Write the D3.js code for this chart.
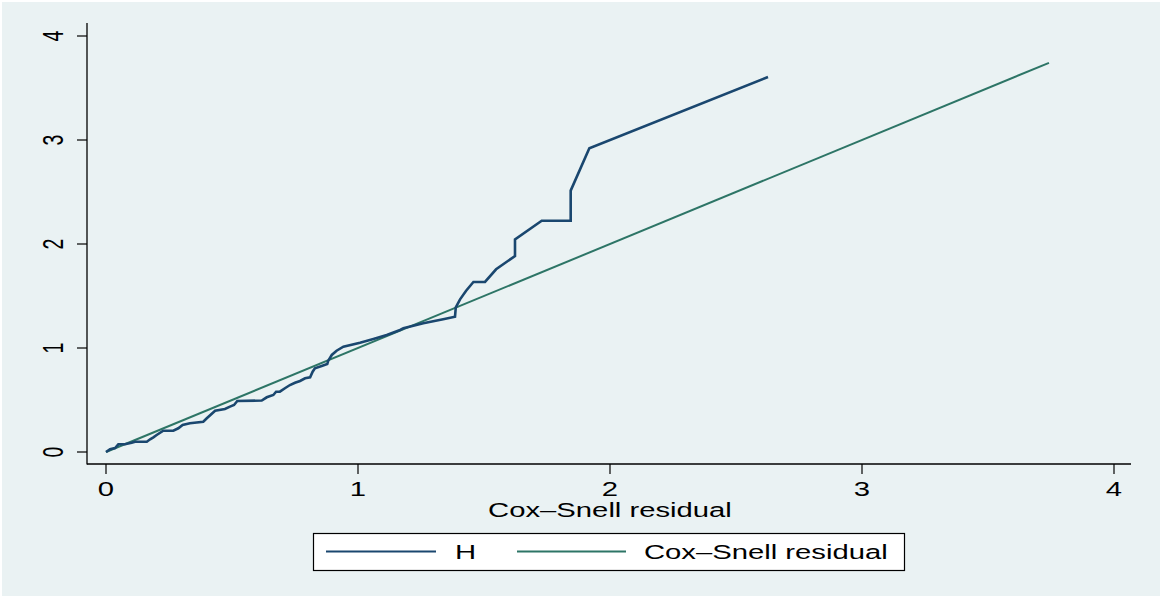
<!DOCTYPE html>
<html>
<head>
<meta charset="utf-8">
<script src="https://cdn.jsdelivr.net/npm/d3@7"></script>
<style>
  html, body { margin: 0; padding: 0; background: #fff; }
  svg { display: block; }
  text { font-family: "Liberation Sans", Arial, sans-serif; fill: #000; }
</style>
</head>
<body>
<script>
// Nelson-Aalen cumulative hazard (H) against Cox-Snell residual
var hX = [0, 0.016, 0.036, 0.049, 0.075, 0.102, 0.115, 0.162, 0.175, 0.188, 0.201,
  0.227, 0.267, 0.287, 0.304, 0.333, 0.386, 0.400, 0.433, 0.472, 0.492, 0.508,
  0.521, 0.618, 0.638, 0.664, 0.675, 0.690, 0.710, 0.730, 0.750, 0.770, 0.790,
  0.810, 0.820, 0.829, 0.856, 0.878, 0.882, 0.896, 0.915, 0.942, 1.008, 1.061,
  1.114, 1.167, 1.180, 1.259, 1.338, 1.385, 1.388, 1.405, 1.429, 1.458, 1.504,
  1.548, 1.623, 1.623, 1.729, 1.844, 1.844, 1.918, 2.627];
var hY = [0, 0.026, 0.038, 0.074, 0.074, 0.089, 0.099, 0.099, 0.122, 0.141, 0.163,
  0.205, 0.205, 0.228, 0.260, 0.276, 0.291, 0.324, 0.397, 0.413, 0.436, 0.452,
  0.490, 0.495, 0.526, 0.548, 0.580, 0.580, 0.613, 0.644, 0.666, 0.683, 0.709,
  0.718, 0.772, 0.805, 0.827, 0.846, 0.878, 0.933, 0.974, 1.013, 1.051, 1.087,
  1.125, 1.173, 1.189, 1.238, 1.276, 1.301, 1.391, 1.468, 1.551, 1.635, 1.635,
  1.757, 1.885, 2.045, 2.224, 2.224, 2.513, 2.920, 3.606];
// reference line: Cox-Snell residual against itself
var csX = [0, 3.742];
var csY = [0, 3.742];

var xTicks = [0, 1, 2, 3, 4];
var yTicks = [0, 1, 2, 3, 4];
var xTitle = "Cox\u2013Snell residual";
var legendLabels = ["H", "Cox\u2013Snell residual"];

var W = 1161, H = 597;
var stretch = 1.5; // the original text is wide
var fs = 19.5;
var navy = "#1a476f", teal = "#2d7566", bg = "#eaf2f3";

var svg = d3.select("body").append("svg").attr("width", W).attr("height", H);
svg.append("rect").attr("width", W).attr("height", H).attr("fill", "#fff");
svg.append("rect").attr("x", 2).attr("y", 2).attr("width", W - 3).attr("height", H - 3)
  .attr("fill", bg);

var x = d3.scaleLinear().domain([0, 4]).range([106, 1114]);
var y = d3.scaleLinear().domain([0, 4]).range([452, 36]);
var plotL = 87, plotR = 1131, plotT = 23, plotB = 464;

// axes
var yAxisG = svg.append("g").attr("transform", "translate(" + plotL + ",0)");
yAxisG.append("line").attr("y1", plotT).attr("y2", plotB + 0.5)
  .attr("stroke", "#000").attr("stroke-width", 1.3);
yAxisG.selectAll("line.tick").data(yTicks).enter().append("line").attr("class", "tick")
  .attr("x1", -10).attr("x2", 0).attr("y1", y).attr("y2", y)
  .attr("stroke", "#000").attr("stroke-width", 1.2);
yAxisG.selectAll("text").data(yTicks).enter().append("text")
  .attr("transform", function (d) {
    return "translate(" + (63 - plotL) + "," + y(d) + ") scale(" + stretch + ",1) rotate(-90)";
  })
  .attr("text-anchor", "middle").attr("font-size", fs).text(function (d) { return d; });

var xAxisG = svg.append("g").attr("transform", "translate(0," + plotB + ")");
xAxisG.append("line").attr("x1", plotL).attr("x2", plotR)
  .attr("stroke", "#000").attr("stroke-width", 1.3);
xAxisG.selectAll("line.tick").data(xTicks).enter().append("line").attr("class", "tick")
  .attr("x1", x).attr("x2", x).attr("y1", 0).attr("y2", 10)
  .attr("stroke", "#000").attr("stroke-width", 1.2);
xAxisG.selectAll("text").data(xTicks).enter().append("text")
  .attr("transform", function (d) {
    return "translate(" + x(d) + ",32) scale(" + stretch + ",1)";
  })
  .attr("text-anchor", "middle").attr("font-size", fs).text(function (d) { return d; });

svg.append("text")
  .attr("transform", "translate(" + x(2) + ",516.5) scale(" + stretch + ",1)")
  .attr("text-anchor", "middle").attr("font-size", fs).text(xTitle);

// lines
var line = d3.line().x(function (d) { return x(d[0]); }).y(function (d) { return y(d[1]); });
svg.append("path").datum(d3.zip(csX, csY)).attr("d", line)
  .attr("fill", "none").attr("stroke", teal).attr("stroke-width", 2);
svg.append("path").datum(d3.zip(hX, hY)).attr("d", line)
  .attr("fill", "none").attr("stroke", navy).attr("stroke-width", 2.6)
  .attr("stroke-linejoin", "miter");

// legend
var lg = svg.append("g");
lg.append("rect").attr("x", 313.5).attr("y", 533.5).attr("width", 591).attr("height", 37)
  .attr("fill", "#fff").attr("stroke", "#000").attr("stroke-width", 1.2);
var items = [
  { label: legendLabels[0], color: navy, x1: 326, x2: 436, tx: 455 },
  { label: legendLabels[1], color: teal, x1: 517, x2: 626, tx: 644 }
];
items.forEach(function (it) {
  lg.append("line").attr("x1", it.x1).attr("x2", it.x2).attr("y1", 551.5).attr("y2", 551.5)
    .attr("stroke", it.color).attr("stroke-width", 1.8);
  lg.append("text").attr("transform", "translate(" + it.tx + ",558.5) scale(" + stretch + ",1)")
    .attr("font-size", fs).text(it.label);
});
</script>
</body>
</html>
